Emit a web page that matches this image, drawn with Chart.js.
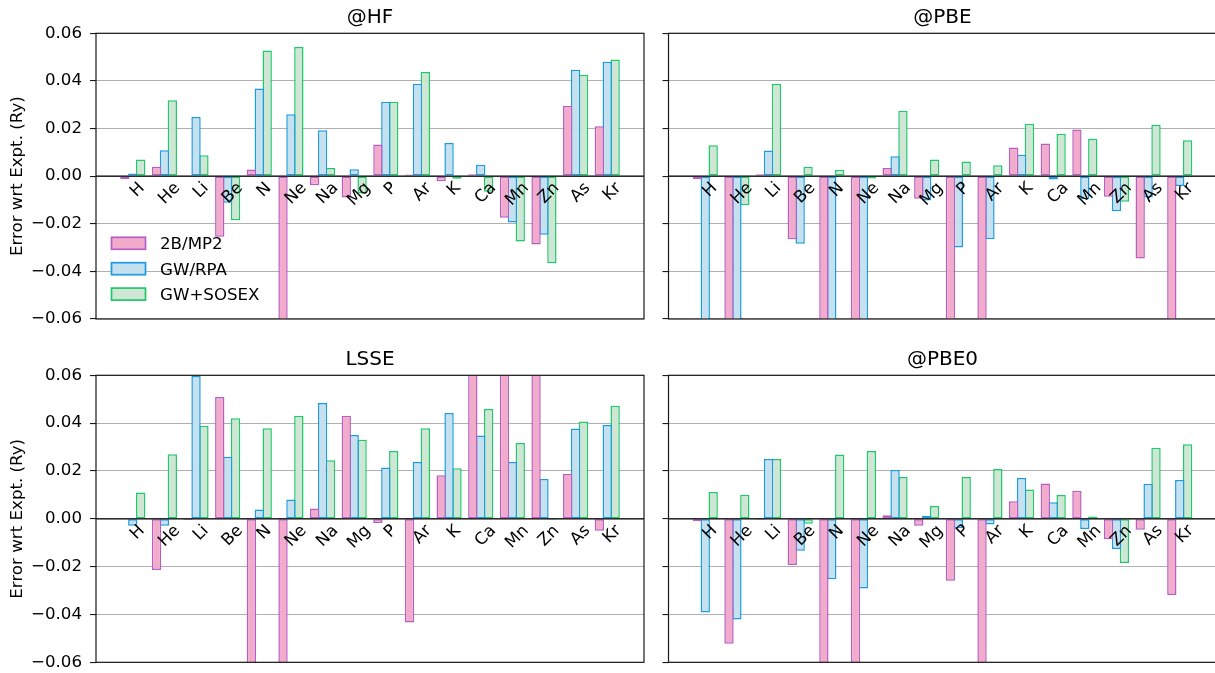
<!DOCTYPE html>
<html>
<head>
<meta charset="utf-8">
<script src="https://cdn.jsdelivr.net/npm/chart.js@4.4.1/dist/chart.umd.min.js"></script>
<style>
html,body{margin:0;padding:0;background:#fff;overflow:hidden;width:1215px;height:673px;position:relative}
canvas{position:absolute;left:0;top:0}
</style>
</head>
<body>
<canvas id="c0" width="1230" height="710"></canvas>
<canvas id="c1" width="1230" height="710"></canvas>
<canvas id="c2" width="1230" height="710"></canvas>
<canvas id="c3" width="1230" height="710"></canvas>
<script>
// ---------------- data ----------------
const elements = ['H','He','Li','Be','N','Ne','Na','Mg','P','Ar','K','Ca','Mn','Zn','As','Kr'];
const seriesNames = ['2B/MP2','GW/RPA','GW+SOSEX'];
const yTicks = [-0.06,-0.04,-0.02,0.00,0.02,0.04,0.06];
const panelTitles = ['@HF','@PBE','LSSE','@PBE0'];

const hfMP2   = [-0.0012, 0.0039,-0.0003,-0.0255, 0.0028,-0.0750,-0.0038,-0.0090, 0.0133, 0.0007,-0.0021, 0.0008,-0.0175,-0.0287, 0.0296, 0.0210];
const hfRPA   = [ 0.0011, 0.0109, 0.0248,-0.0112, 0.0368, 0.0260, 0.0193, 0.0029, 0.0312, 0.0388, 0.0139, 0.0048,-0.0195,-0.0246, 0.0447, 0.0480];
const hfSOSEX = [ 0.0070, 0.0319, 0.0088,-0.0185, 0.0528, 0.0542, 0.0034,-0.0073, 0.0312, 0.0437,-0.0011,-0.0066,-0.0275,-0.0366, 0.0426, 0.0490];

const pbeMP2   = [-0.0013,-0.0800, 0.0008,-0.0265,-0.0800,-0.0800, 0.0034,-0.0095,-0.0800,-0.0800, 0.0120, 0.0137, 0.0196,-0.0087,-0.0346,-0.0800];
const pbeRPA   = [-0.0800,-0.0800, 0.0108,-0.0284,-0.0800,-0.0800, 0.0084,-0.0102,-0.0300,-0.0265, 0.0090,-0.0014,-0.0097,-0.0147,-0.0090,-0.0041];
const pbeSOSEX = [ 0.0130,-0.0122, 0.0388, 0.0039, 0.0027,-0.0010, 0.0275, 0.0070, 0.0062, 0.0046, 0.0220, 0.0178, 0.0157,-0.0108, 0.0216, 0.0151];

const lsseMP2   = [ 0.0000,-0.0214,-0.0005, 0.0509,-0.0800,-0.0800, 0.0043, 0.0431,-0.0018,-0.0434, 0.0182, 0.0800, 0.0800, 0.0800, 0.0187,-0.0050];
const lsseRPA   = [-0.0029,-0.0029, 0.0597, 0.0259, 0.0039, 0.0081, 0.0484, 0.0350, 0.0215, 0.0238, 0.0442, 0.0348, 0.0238, 0.0166, 0.0378, 0.0392];
const lsseSOSEX = [ 0.0110, 0.0270, 0.0389, 0.0420, 0.0379, 0.0431, 0.0245, 0.0331, 0.0284, 0.0379, 0.0211, 0.0459, 0.0317,-0.0004, 0.0407, 0.0473];

const pbe0MP2   = [-0.0010,-0.0522,-0.0004,-0.0193,-0.0800,-0.0800, 0.0015,-0.0029,-0.0259,-0.0800, 0.0073, 0.0148, 0.0117,-0.0085,-0.0046,-0.0319];
const pbe0RPA   = [-0.0392,-0.0421, 0.0250,-0.0134,-0.0253,-0.0291, 0.0204, 0.0013,-0.0039,-0.0024, 0.0171, 0.0069,-0.0043,-0.0126, 0.0147, 0.0162];
const pbe0SOSEX = [ 0.0112, 0.0101, 0.0250,-0.0021, 0.0269, 0.0283, 0.0175, 0.0053, 0.0175, 0.0208, 0.0122, 0.0099, 0.0010,-0.0185, 0.0297, 0.0312];

// ---------------- style ----------------
const fills   = ['#f2abcb','#c5e1f0','#cfe6d4'];
const borders = ['#b55fc5','#1c9be0','#1ec96b'];
const FONT = '"DejaVu Sans", "Liberation Sans", sans-serif';
const CW = 1230, CH = 710;

const panels = [
  {id:'c0', title:panelTitles[0], data:[hfMP2,hfRPA,hfSOSEX],       left:96,    right:644,    top:33.3,  bottom:319,   labels:true,  legend:true},
  {id:'c1', title:panelTitles[1], data:[pbeMP2,pbeRPA,pbeSOSEX],    left:668.5, right:1216.5, top:33.3,  bottom:319,   labels:false, legend:false},
  {id:'c2', title:panelTitles[2], data:[lsseMP2,lsseRPA,lsseSOSEX], left:96,    right:644,    top:375.3, bottom:662.3, labels:true,  legend:false},
  {id:'c3', title:panelTitles[3], data:[pbe0MP2,pbe0RPA,pbe0SOSEX], left:668.5, right:1216.5, top:375.3, bottom:662.3, labels:false, legend:false}
];

function fmtTick(v){
  if (Math.abs(v) < 1e-9) return '0.00';
  const s = Math.abs(v).toFixed(2);
  return v < 0 ? '\u2212' + s : s;
}

function panelPlugin(p){
  return {
    id: 'panel_' + p.id,
    afterDatasetsDraw(chart){
      const ctx = chart.ctx, a = chart.chartArea;
      const xs = chart.scales.x, ys = chart.scales.y;
      const y0 = ys.getPixelForValue(0);
      ctx.save();
      // zero line
      ctx.strokeStyle = '#000';
      ctx.lineWidth = 1.2;
      ctx.beginPath(); ctx.moveTo(a.left, y0); ctx.lineTo(a.right, y0); ctx.stroke();
      // frame
      ctx.strokeStyle = '#1a1a1a';
      ctx.lineWidth = 1.2;
      ctx.strokeRect(a.left, a.top, a.right - a.left, a.bottom - a.top);
      // category labels at the zero line, rotated 45 degrees
      const fs = 16.67;
      ctx.font = fs + 'px ' + FONT;
      ctx.fillStyle = '#000';
      ctx.textAlign = 'center';
      ctx.textBaseline = 'alphabetic';
      const hBox = 1.164 * fs;
      elements.forEach((lab, i) => {
        const w = ctx.measureText(lab).width;
        const W = (w + hBox) * Math.SQRT1_2;
        const cx = xs.getPixelForValue(i + 0.125);
        const cy = y0 + 1.5 + W / 2;
        ctx.save();
        ctx.translate(cx, cy);
        ctx.rotate(-Math.PI / 4);
        ctx.fillText(lab, 0, 0.346 * fs);
        ctx.restore();
      });
      // title
      ctx.font = '20px ' + FONT;
      ctx.textAlign = 'center';
      ctx.fillText(p.title, (a.left + a.right) / 2, a.top - 10.5);
      // y label
      if (p.labels){
        ctx.save();
        ctx.font = fs + 'px ' + FONT;
        ctx.translate(21.5, (a.top + a.bottom) / 2);
        ctx.rotate(-Math.PI / 2);
        ctx.textAlign = 'center';
        ctx.fillText('Error wrt Expt. (Ry)', 0, 0);
        ctx.restore();
      }
      // legend
      if (p.legend){
        ctx.font = fs + 'px ' + FONT;
        ctx.textAlign = 'left';
        seriesNames.forEach((name, k) => {
          const cyL = a.top + 210 + k * 25.4;
          ctx.fillStyle = fills[k];
          ctx.strokeStyle = borders[k];
          ctx.lineWidth = 1.7;
          ctx.fillRect(a.left + 15.5, cyL - 6, 34, 12);
          ctx.strokeRect(a.left + 15.5, cyL - 6, 34, 12);
          ctx.fillStyle = '#000';
          ctx.fillText(name, a.left + 64, cyL + 6);
        });
      }
      ctx.restore();
    }
  };
}

panels.forEach(p => {
  const yW = p.labels ? 96 : 40;
  new Chart(document.getElementById(p.id).getContext('2d'), {
    type: 'bar',
    data: {
      datasets: p.data.map((arr, k) => ({
        label: seriesNames[k],
        data: arr.map((v, i) => ({x: i, y: v})),
        backgroundColor: fills[k],
        borderColor: borders[k],
        borderWidth: 1.5,
        borderSkipped: false,
        categoryPercentage: 0.75,
        barPercentage: 1.18,
        clip: 0
      }))
    },
    options: {
      responsive: false,
      animation: false,
      devicePixelRatio: 1,
      events: [],
      layout: {padding: {left: p.left - yW, right: CW - p.right, top: p.top, bottom: CH - p.bottom}},
      plugins: {legend: {display: false}, tooltip: {enabled: false}, title: {display: false}},
      scales: {
        x: {
          type: 'linear', min: -1.1625, max: 16.1625, display: false, offset: false,
          grid: {offset: false},
          afterBuildTicks: s => { s.ticks = elements.map((_, i) => ({value: i})); }
        },
        y: {
          min: yTicks[0], max: yTicks[yTicks.length - 1],
          afterFit: s => { s.width = yW; },
          afterBuildTicks: s => { s.ticks = yTicks.map(v => ({value: v})); },
          ticks: {
            display: p.labels,
            callback: v => fmtTick(v),
            font: {family: FONT, size: 16.67},
            color: '#000',
            padding: 8
          },
          grid: {color: '#b0b0b0', lineWidth: 1.1, tickLength: 6, tickColor: '#1a1a1a', drawTicks: true},
          border: {display: false}
        }
      }
    },
    plugins: [panelPlugin(p)]
  });
});
</script>
</body>
</html>
